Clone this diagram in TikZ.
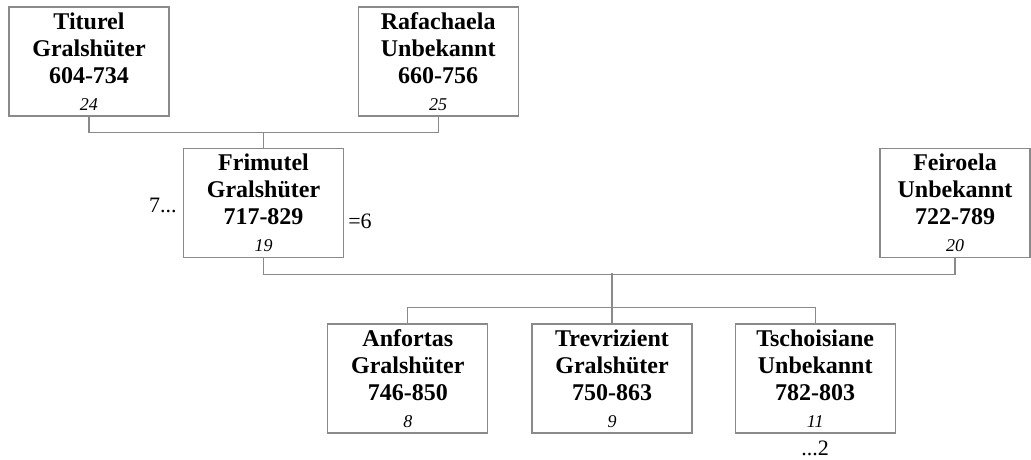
\documentclass[tikz,border=0pt]{standalone}
\usepackage{fontspec}
\setmainfont{Liberation Serif}
\usetikzlibrary{positioning, calc}
\definecolor{lngrey}{HTML}{8A8A8A}
\tikzset{
  person/.style={
    draw=lngrey, fill=white, line width=1.2pt, align=center,
    minimum width=160pt, minimum height=109pt, inner sep=0pt,
    font=\fontsize{24}{27}\selectfont\bfseries},
  kin/.style={draw=lngrey, line width=1.2pt},
  remark/.style={font=\fontsize{22}{24}\selectfont, inner sep=0pt},
}
\newcommand{\gen}[1]{{\normalfont\itshape\fontsize{18}{28}\selectfont #1}}

\begin{document}
\begin{tikzpicture}[x=1pt, y=-1pt]
  \useasboundingbox (0,0) rectangle (1031,459);
  % grandparents
  \node[person] (titurel) at (89,61.5)
       {Titurel\\Gralshüter\\604-734\\\gen{24}};
  \node[person, right=188pt of titurel] (rafachaela)
       {Rafachaela\\Unbekannt\\660-756\\\gen{25}};
  % parents
  \node[person] (frimutel) at (263.5,203)
       {Frimutel\\Gralshüter\\717-829\\\gen{19}};
  \node[person, minimum width=150pt] (feiroela) at (955,203)
       {Feiroela\\Unbekannt\\722-789\\\gen{20}};
  % children
  \node[person] (trevrizient) at (612,378.5)
       {Trevrizient\\Gralshüter\\750-863\\\gen{9}};
  \node[person, left=43pt of trevrizient] (anfortas)
       {Anfortas\\Gralshüter\\746-850\\\gen{8}};
  \node[person, right=42pt of trevrizient] (tschoisiane)
       {Tschoisiane\\Unbekannt\\782-803\\\gen{11}};

  \draw[kin] (titurel.south) -- ++(0,16) -| (rafachaela.south);
  \draw[kin] (frimutel.north) -- ++(0,-16);
  \draw[kin] (frimutel.south) -- ++(0,16) -| (feiroela.south);
  \draw[kin] (trevrizient.north) -- ++(0,-50);
  \draw[kin] (anfortas.north) -- ++(0,-16) -| (tschoisiane.north);

  \node[remark, anchor=base east] (more7) at ($(frimutel.west)+(-6,9)$) {7...};
  \node[remark, anchor=base west] (eq6) at ($(frimutel.east)+(4,25)$) {=6};
  \node[remark, anchor=base] (more2) at ($(tschoisiane.south)+(0,22)$) {...2};
\end{tikzpicture}
\end{document}
